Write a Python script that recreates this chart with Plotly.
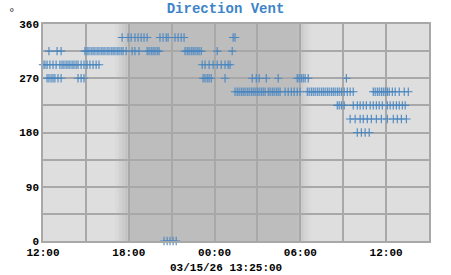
import pandas as pd
import plotly.graph_objects as go

# Start of the displayed window
start = pd.Timestamp("2026-03-14 12:00")
end = pd.Timestamp("2026-03-15 15:00")
night_start = pd.Timestamp("2026-03-14 18:00")
night_end = pd.Timestamp("2026-03-15 06:00")

# Wind direction readings: minutes after 03/14 12:00, grouped by direction (degrees)
min_337_5 = [332, 357, 370, 386, 399, 412, 424, 437, 491, 504, 517, 525, 554, 567, 580, 592, 798, 806]
min_315 = [25, 59, 76, 176, 185, 193, 202, 210, 218, 227, 235, 244, 252, 260, 269, 277, 286, 294,
           302, 311, 319, 328, 336, 349, 374, 386, 403, 437, 445, 454, 462, 470, 479, 487,
           596, 605, 613, 622, 630, 638, 647, 655, 664, 731, 794]
min_292_5 = [0, 8, 17, 29, 42, 55, 71, 80, 88, 97, 105, 113, 122, 130, 139, 147, 160, 172, 185,
             197, 210, 223, 235, 668, 680, 697, 714, 731, 748, 764, 777, 785]
min_270 = [17, 25, 34, 42, 50, 63, 76, 147, 160, 172, 672, 680, 689, 697, 706, 764, 878, 895,
           907, 937, 987, 1067, 1075, 1084, 1092, 1100, 1113, 1273]
min_247_5 = [806, 815, 823, 832, 840, 848, 857, 865, 874, 882, 890, 899, 907, 916, 924, 932,
             945, 953, 962, 970, 979, 987, 995, 1016, 1029, 1042, 1054, 1067, 1079, 1109, 1117,
             1126, 1134, 1142, 1151, 1159, 1168, 1176, 1184, 1193, 1201, 1210, 1218, 1226,
             1235, 1243, 1252, 1264, 1277, 1289, 1302, 1386, 1394, 1403, 1411, 1420, 1428,
             1436, 1445, 1453, 1466, 1478, 1495, 1516, 1533]
min_225 = [1235, 1243, 1252, 1264, 1302, 1319, 1331, 1344, 1357, 1373, 1386, 1399, 1411, 1424,
           1445, 1457, 1470, 1483, 1495, 1508, 1520]
min_202_5 = [1289, 1310, 1331, 1344, 1361, 1378, 1399, 1420, 1445, 1470, 1487, 1504, 1525]
min_180 = [1319, 1336, 1352, 1369]
min_0 = [508, 521, 533, 546, 559]

groups = [(337.5, min_337_5), (315, min_315), (292.5, min_292_5), (270, min_270),
          (247.5, min_247_5), (225, min_225), (202.5, min_202_5), (180, min_180), (0, min_0)]

times, dirs = [], []
for d, mins in groups:
    for m in mins:
        times.append(start + pd.Timedelta(minutes=m))
        dirs.append(d)
df = pd.DataFrame({"time": times, "dir": dirs}).sort_values("time")

y_ticks = [0, 90, 180, 270, 360]

fig = go.Figure()
fig.add_trace(go.Scatter(
    x=df["time"], y=df["dir"], mode="markers",
    marker=dict(symbol="cross-thin", size=6, color="#4a86c0",
                line=dict(color="#4a86c0", width=1.1)),
    hoverinfo="x+y", showlegend=False, cliponaxis=False,
))

light = (222, 222, 222)
dark = (189, 189, 189)

def mix(t):
    c = [round(light[i] + (dark[i] - light[i]) * t) for i in range(3)]
    return "rgb(%d,%d,%d)" % tuple(c)

shapes = []
# Gradient into night
steps = 10
ramp_in = pd.Timedelta(minutes=60)
for i in range(steps):
    x0 = night_start - ramp_in + ramp_in * i / steps
    x1 = night_start - ramp_in + ramp_in * (i + 1) / steps
    shapes.append(dict(type="rect", xref="x", yref="y", x0=x0, x1=x1, y0=0, y1=360,
                       fillcolor=mix((i + 0.5) / steps), line_width=0, layer="below"))
shapes.append(dict(type="rect", xref="x", yref="y", x0=night_start, x1=night_end - pd.Timedelta(minutes=10),
                   y0=0, y1=360, fillcolor=mix(1), line_width=0, layer="below"))
ramp_out = pd.Timedelta(minutes=70)
base = night_end - pd.Timedelta(minutes=10)
for i in range(steps):
    x0 = base + ramp_out * i / steps
    x1 = base + ramp_out * (i + 1) / steps
    t = 1 - (i + 0.5) / steps
    shapes.append(dict(type="rect", xref="x", yref="y", x0=x0, x1=x1, y0=0, y1=360,
                       fillcolor=mix(t ** 1.8), line_width=0, layer="below"))

fig.update_layout(
    width=451, height=275,
    margin=dict(l=43, r=22, t=24, b=34),
    paper_bgcolor="white", plot_bgcolor="rgb(222,222,222)",
    shapes=shapes,
    title=dict(text="<b>Direction Vent</b>", x=0.5, xanchor="center", y=0.97, yanchor="middle",
               font=dict(family="Liberation Mono", size=14, color="#3d85c6")),
    font=dict(family="Liberation Mono", size=11, color="black"),
    annotations=[
        dict(text="°", xref="paper", yref="paper", x=-0.08, y=1.055, xanchor="center",
             yanchor="middle", showarrow=False, font=dict(size=11, family="DejaVu Sans", color="#333")),
        dict(text="<b>03/15/26 13:25:00</b>", xref="paper", yref="paper", x=0.475, y=-0.124,
             xanchor="center", yanchor="middle", showarrow=False,
             font=dict(size=11, family="Liberation Mono", color="black")),
    ],
)
fig.update_xaxes(
    type="date", range=[start, end],
    tickformat="<b>%H:%M</b>", dtick=6 * 3600 * 1000, tick0=start,
    showgrid=True, gridcolor="#a8a8a8", gridwidth=1.5,
    minor=dict(dtick=3 * 3600 * 1000, tick0=start, showgrid=True, gridcolor="#a8a8a8", gridwidth=1.5),
    showline=True, linecolor="#a8a8a8", linewidth=1.5, mirror=True,
    ticks="", zeroline=False, tickfont=dict(family="Liberation Mono", size=11, color="black"),
)
fig.update_yaxes(
    range=[0, 360], tickvals=y_ticks, ticktext=["<b>%d</b>" % v for v in y_ticks],
    showgrid=True, gridcolor="#a8a8a8", gridwidth=1.5,
    minor=dict(dtick=45, showgrid=True, gridcolor="#a8a8a8", gridwidth=1.5),
    showline=True, linecolor="#a8a8a8", linewidth=1.5, mirror=True,
    ticks="", zeroline=False, tickfont=dict(family="Liberation Mono", size=11, color="black"),
)

fig.write_html("out.html")
